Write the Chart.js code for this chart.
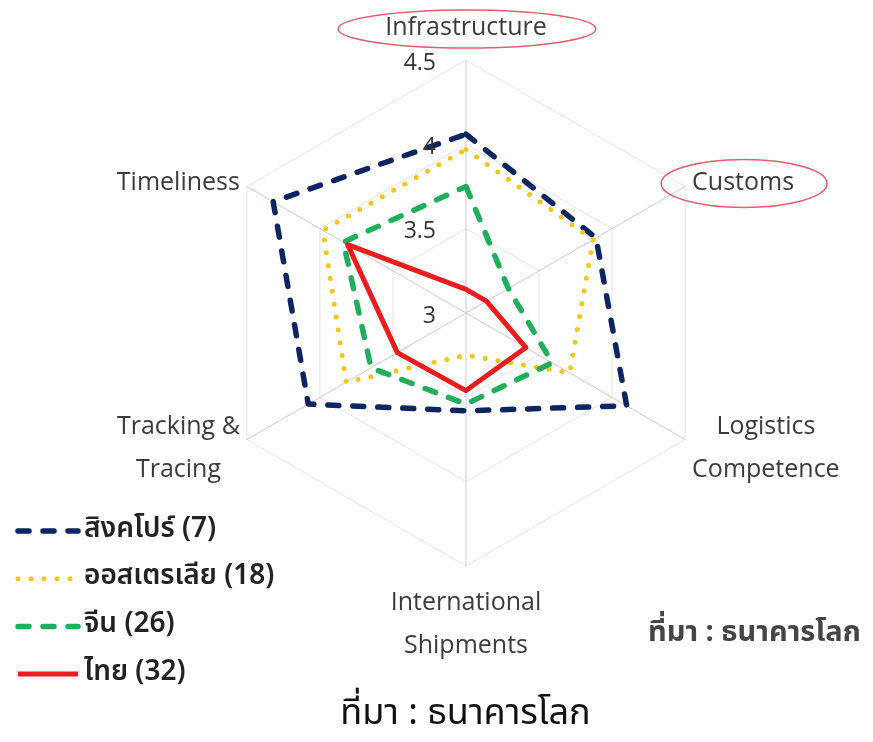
<!DOCTYPE html>
<html lang="th">
<head>
<meta charset="utf-8">
<title>LPI 2018 radar</title>
<script src="https://cdn.jsdelivr.net/npm/chart.js@4.4.1/dist/chart.umd.min.js"></script>
<style>
  html, body { margin: 0; padding: 0; background: #fff; }
  #wrap { position: relative; width: 873px; height: 742px; overflow: hidden; }
  #lpi { position: absolute; left: 0; top: 0; }
  .source { position: absolute; white-space: nowrap; line-height: 40px; font-family: "Noto Sans Thai", "Noto Sans", "DejaVu Sans", sans-serif; }
  #src-side { left: 648px; top: 612px; font-size: 29px; font-weight: 700; color: #454545; }
  #src-bottom { left: 0; width: 931px; top: 693px; text-align: center; font-size: 36px; color: #111; }
</style>
</head>
<body>
<div id="wrap">
  <canvas id="lpi" width="873" height="742"></canvas>
  <div class="source" id="src-side">ที่มา : ธนาคารโลก</div>
  <div class="source" id="src-bottom">ที่มา : ธนาคารโลก</div>
</div>
<script>
// LPI 2018 scores, axes clockwise from the top
const axisLabels = [
  ["Infrastructure"],
  ["Customs"],
  ["Logistics", "Competence"],
  ["International", "Shipments"],
  ["Tracking &", "Tracing"],
  ["Timeliness"],
];
const countries = ["สิงคโปร์ (7)", "ออสเตรเลีย (18)", "จีน (26)", "ไทย (32)"];
const singapore = [4.06, 3.89, 4.10, 3.58, 4.08, 4.32];
const australia = [3.97, 3.87, 3.71, 3.25, 3.82, 3.98];
const china = [3.75, 3.29, 3.59, 3.54, 3.65, 3.84];
const thailand = [3.14, 3.14, 3.41, 3.46, 3.47, 3.81];
const tickValues = [3, 3.5, 4, 4.5];
const circled = [0, 1]; // axes highlighted with a red ellipse

const LATIN = '"Open Sans", "Noto Sans", sans-serif';
const THAI = '"Noto Sans Thai", "Noto Sans", "DejaVu Sans", sans-serif';

function lineSet(label, data, color, dash, width, cap, order) {
  return {
    label,
    data,
    borderColor: color,
    backgroundColor: "transparent",
    borderWidth: width,
    borderDash: dash,
    borderCapStyle: cap,
    borderJoinStyle: "round",
    pointRadius: 0,
    pointHoverRadius: 0,
    fill: false,
    order,
  };
}

const overlay = {
  id: "overlay",
  afterDraw(chart) {
    const ctx = chart.ctx;
    const r = chart.scales.r;
    const outer = r.drawingArea;
    ctx.save();

    // value labels, left of the vertical axis
    ctx.font = `23px ${LATIN}`;
    ctx.fillStyle = "#333";
    ctx.textAlign = "right";
    ctx.textBaseline = "middle";
    tickValues.forEach((v) => {
      const d = r.getDistanceFromCenterForValue(v);
      ctx.fillText(String(v), r.xCenter - 30, r.yCenter - d + 3);
    });

    // axis titles
    ctx.font = `25px ${LATIN}`;
    ctx.fillStyle = "#3b3b3b";
    ctx.textAlign = "center";
    const lineH = 43;
    axisLabels.forEach((lines, i) => {
      const p = r.getPointPosition(i, outer);
      const dx = p.x - r.xCenter;
      const w = Math.max(...lines.map((t) => ctx.measureText(t).width));
      let cx, y0;
      if (Math.abs(dx) < 1) {
        cx = p.x;
        y0 = p.y < r.yCenter ? p.y - 32 - (lines.length - 1) * lineH : p.y + 37;
      } else {
        cx = dx > 0 ? p.x + 7 + w / 2 : p.x - 7 - w / 2;
        y0 = p.y - 4 - (lines.length - 1) * 9;
      }
      lines.forEach((t, k) => ctx.fillText(t, cx, y0 + k * lineH));

      if (circled.includes(i)) {
        const rx = Math.abs(dx) < 1 ? w / 2 + 48 : w / 2 + 32;
        const ry = Math.abs(dx) < 1 ? 19 : 24;
        ctx.beginPath();
        ctx.ellipse(cx + 1, y0 + 1, rx, ry, 0, 0, Math.PI * 2);
        ctx.strokeStyle = "#e0606a";
        ctx.lineWidth = 1.5;
        ctx.stroke();
      }
    });

    // legend, bottom left
    ctx.font = `600 28px ${THAI}`;
    ctx.fillStyle = "#222";
    ctx.textAlign = "left";
    chart.data.datasets.forEach((ds, i) => {
      const y = 531 + i * 47.7;
      ctx.strokeStyle = ds.borderColor;
      ctx.lineWidth = ds.borderWidth;
      ctx.lineCap = ds.borderCapStyle;
      ctx.setLineDash(ds.borderDash);
      ctx.beginPath();
      ctx.moveTo(18, y);
      ctx.lineTo(78, y);
      ctx.stroke();
      ctx.setLineDash([]);
      ctx.fillText(ds.label, 84, y);
    });

    ctx.restore();
  },
};

new Chart(document.getElementById("lpi"), {
  type: "radar",
  data: {
    labels: axisLabels,
    datasets: [
      lineSet(countries[0], singapore, "#0d2463", [11, 14], 5.5, "round", 4),
      lineSet(countries[1], australia, "#f5c518", [0, 13], 5, "round", 3),
      lineSet(countries[2], china, "#1fae5b", [11, 14], 5.5, "round", 2),
      lineSet(countries[3], thailand, "#ee1c1c", [], 5, "butt", 1),
    ],
  },
  options: {
    responsive: false,
    animation: false,
    layout: { padding: 0 },
    plugins: {
      legend: { display: false },
      tooltip: { enabled: false },
    },
    scales: {
      r: {
        min: 3,
        max: 4.5,
        ticks: { display: false, stepSize: 0.5 },
        grid: { color: "#e4e4e4", lineWidth: 1 },
        angleLines: { color: "#cacaca", lineWidth: 1 },
        pointLabels: { display: false },
        afterFit(scale) {
          scale.xCenter = 466;
          scale.yCenter = 313;
          scale.drawingArea = 253;
        },
      },
    },
  },
  plugins: [overlay],
});
</script>
</body>
</html>
